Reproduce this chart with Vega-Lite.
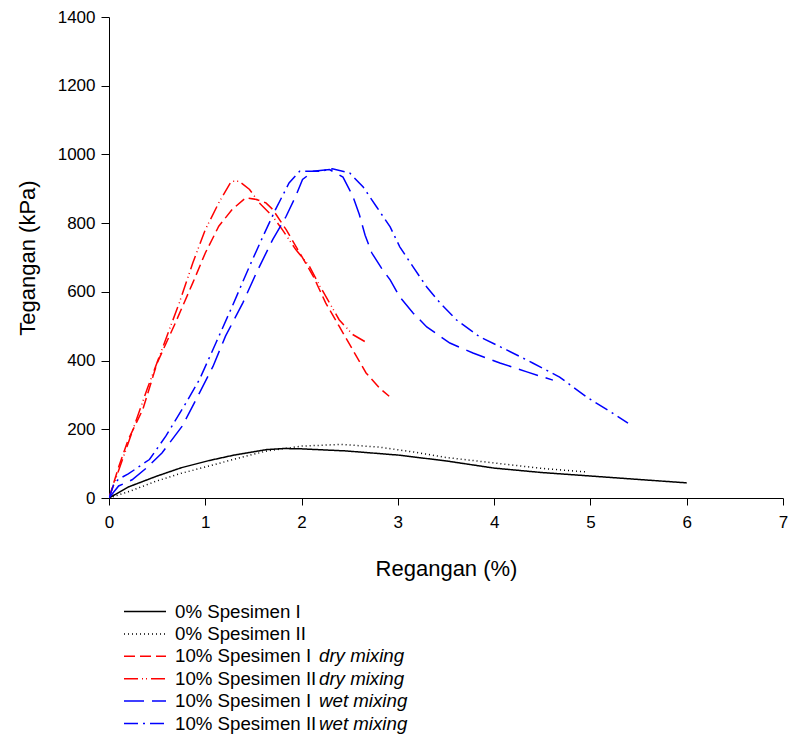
{
  "$schema": "https://vega.github.io/schema/vega-lite/v6.json",
  "autosize": "none",
  "padding": {"left": 109, "top": 17, "right": 7, "bottom": 244},
  "width": 674,
  "height": 481,
  "background": "white",
  "config": {
    "font": "Liberation Sans",
    "view": {"stroke": null},
    "axis": {
      "grid": false,
      "domainColor": "#000000",
      "tickColor": "#000000",
      "labelColor": "#000000",
      "titleColor": "#000000",
      "labelFont": "Liberation Sans",
      "titleFont": "Liberation Sans",
      "labelFontSize": 17,
      "titleFontSize": 22,
      "titleFontWeight": "normal",
      "tickSize": 7,
      "domainWidth": 1,
      "tickWidth": 1
    },
    "legend": {
      "labelFont": "Liberation Sans",
      "labelFontSize": 18.7,
      "labelColor": "#000000",
      "labelLimit": 400
    }
  },
  "layer": [
    {
      "data": {
        "values": [
          {"series": "0% Spesimen I", "x": 0, "y": 0},
          {"series": "0% Spesimen I", "x": 0.2, "y": 32},
          {"series": "0% Spesimen I", "x": 0.49, "y": 63},
          {"series": "0% Spesimen I", "x": 0.75, "y": 88},
          {"series": "0% Spesimen I", "x": 1.04, "y": 109},
          {"series": "0% Spesimen I", "x": 1.3, "y": 125},
          {"series": "0% Spesimen I", "x": 1.64, "y": 141},
          {"series": "0% Spesimen I", "x": 1.82, "y": 144},
          {"series": "0% Spesimen I", "x": 2.0, "y": 143},
          {"series": "0% Spesimen I", "x": 2.46, "y": 137},
          {"series": "0% Spesimen I", "x": 3.0, "y": 125},
          {"series": "0% Spesimen I", "x": 3.5, "y": 108},
          {"series": "0% Spesimen I", "x": 4.0, "y": 87},
          {"series": "0% Spesimen I", "x": 4.5, "y": 74},
          {"series": "0% Spesimen I", "x": 5.0, "y": 64},
          {"series": "0% Spesimen I", "x": 5.5, "y": 54},
          {"series": "0% Spesimen I", "x": 6.0, "y": 44},

          {"series": "0% Spesimen II", "x": 0, "y": 0},
          {"series": "0% Spesimen II", "x": 0.2, "y": 18},
          {"series": "0% Spesimen II", "x": 0.49, "y": 49},
          {"series": "0% Spesimen II", "x": 0.75, "y": 72},
          {"series": "0% Spesimen II", "x": 1.04, "y": 93},
          {"series": "0% Spesimen II", "x": 1.3, "y": 113},
          {"series": "0% Spesimen II", "x": 1.64, "y": 137},
          {"series": "0% Spesimen II", "x": 2.0, "y": 151},
          {"series": "0% Spesimen II", "x": 2.41, "y": 156},
          {"series": "0% Spesimen II", "x": 2.81, "y": 148},
          {"series": "0% Spesimen II", "x": 3.16, "y": 134},
          {"series": "0% Spesimen II", "x": 3.5, "y": 118},
          {"series": "0% Spesimen II", "x": 4.0, "y": 102},
          {"series": "0% Spesimen II", "x": 4.5, "y": 86},
          {"series": "0% Spesimen II", "x": 4.95, "y": 76},

          {"series": "10% Spesimen I dry mixing", "x": 0, "y": 0},
          {"series": "10% Spesimen I dry mixing", "x": 0.1, "y": 90},
          {"series": "10% Spesimen I dry mixing", "x": 0.2, "y": 170},
          {"series": "10% Spesimen I dry mixing", "x": 0.35, "y": 257},
          {"series": "10% Spesimen I dry mixing", "x": 0.5, "y": 393},
          {"series": "10% Spesimen I dry mixing", "x": 0.69, "y": 510},
          {"series": "10% Spesimen I dry mixing", "x": 0.87, "y": 626},
          {"series": "10% Spesimen I dry mixing", "x": 1.0, "y": 713},
          {"series": "10% Spesimen I dry mixing", "x": 1.14, "y": 791},
          {"series": "10% Spesimen I dry mixing", "x": 1.28, "y": 840},
          {"series": "10% Spesimen I dry mixing", "x": 1.42, "y": 874},
          {"series": "10% Spesimen I dry mixing", "x": 1.53, "y": 869},
          {"series": "10% Spesimen I dry mixing", "x": 1.63, "y": 859},
          {"series": "10% Spesimen I dry mixing", "x": 1.7, "y": 840},
          {"series": "10% Spesimen I dry mixing", "x": 1.84, "y": 781},
          {"series": "10% Spesimen I dry mixing", "x": 1.98, "y": 714},
          {"series": "10% Spesimen I dry mixing", "x": 2.12, "y": 646},
          {"series": "10% Spesimen I dry mixing", "x": 2.25, "y": 568},
          {"series": "10% Spesimen I dry mixing", "x": 2.39, "y": 500},
          {"series": "10% Spesimen I dry mixing", "x": 2.53, "y": 432},
          {"series": "10% Spesimen I dry mixing", "x": 2.67, "y": 364},
          {"series": "10% Spesimen I dry mixing", "x": 2.81, "y": 320},
          {"series": "10% Spesimen I dry mixing", "x": 2.91, "y": 296},

          {"series": "10% Spesimen II dry mixing", "x": 0, "y": 0},
          {"series": "10% Spesimen II dry mixing", "x": 0.1, "y": 80},
          {"series": "10% Spesimen II dry mixing", "x": 0.25, "y": 200},
          {"series": "10% Spesimen II dry mixing", "x": 0.4, "y": 320},
          {"series": "10% Spesimen II dry mixing", "x": 0.55, "y": 432},
          {"series": "10% Spesimen II dry mixing", "x": 0.73, "y": 568},
          {"series": "10% Spesimen II dry mixing", "x": 0.87, "y": 684},
          {"series": "10% Spesimen II dry mixing", "x": 1.0, "y": 781},
          {"series": "10% Spesimen II dry mixing", "x": 1.14, "y": 859},
          {"series": "10% Spesimen II dry mixing", "x": 1.27, "y": 922},
          {"series": "10% Spesimen II dry mixing", "x": 1.35, "y": 922},
          {"series": "10% Spesimen II dry mixing", "x": 1.46, "y": 898},
          {"series": "10% Spesimen II dry mixing", "x": 1.56, "y": 859},
          {"series": "10% Spesimen II dry mixing", "x": 1.7, "y": 820},
          {"series": "10% Spesimen II dry mixing", "x": 1.8, "y": 781},
          {"series": "10% Spesimen II dry mixing", "x": 1.94, "y": 723},
          {"series": "10% Spesimen II dry mixing", "x": 2.08, "y": 675},
          {"series": "10% Spesimen II dry mixing", "x": 2.19, "y": 617},
          {"series": "10% Spesimen II dry mixing", "x": 2.29, "y": 568},
          {"series": "10% Spesimen II dry mixing", "x": 2.39, "y": 519},
          {"series": "10% Spesimen II dry mixing", "x": 2.53, "y": 476},
          {"series": "10% Spesimen II dry mixing", "x": 2.69, "y": 450},

          {"series": "10% Spesimen I wet mixing", "x": 0, "y": 0},
          {"series": "10% Spesimen I wet mixing", "x": 0.1, "y": 35},
          {"series": "10% Spesimen I wet mixing", "x": 0.24, "y": 53},
          {"series": "10% Spesimen I wet mixing", "x": 0.4, "y": 90},
          {"series": "10% Spesimen I wet mixing", "x": 0.55, "y": 131},
          {"series": "10% Spesimen I wet mixing", "x": 0.76, "y": 209},
          {"series": "10% Spesimen I wet mixing", "x": 0.94, "y": 306},
          {"series": "10% Spesimen I wet mixing", "x": 1.08, "y": 383},
          {"series": "10% Spesimen I wet mixing", "x": 1.21, "y": 471},
          {"series": "10% Spesimen I wet mixing", "x": 1.39, "y": 568},
          {"series": "10% Spesimen I wet mixing", "x": 1.53, "y": 655},
          {"series": "10% Spesimen I wet mixing", "x": 1.7, "y": 752},
          {"series": "10% Spesimen I wet mixing", "x": 1.84, "y": 820},
          {"series": "10% Spesimen I wet mixing", "x": 1.94, "y": 879},
          {"series": "10% Spesimen I wet mixing", "x": 2.01, "y": 927},
          {"series": "10% Spesimen I wet mixing", "x": 2.12, "y": 951},
          {"series": "10% Spesimen I wet mixing", "x": 2.29, "y": 956},
          {"series": "10% Spesimen I wet mixing", "x": 2.43, "y": 934},
          {"series": "10% Spesimen I wet mixing", "x": 2.53, "y": 880},
          {"series": "10% Spesimen I wet mixing", "x": 2.6, "y": 825},
          {"series": "10% Spesimen I wet mixing", "x": 2.66, "y": 765},
          {"series": "10% Spesimen I wet mixing", "x": 2.73, "y": 713},
          {"series": "10% Spesimen I wet mixing", "x": 2.83, "y": 669},
          {"series": "10% Spesimen I wet mixing", "x": 2.92, "y": 635},
          {"series": "10% Spesimen I wet mixing", "x": 3.02, "y": 585},
          {"series": "10% Spesimen I wet mixing", "x": 3.16, "y": 538},
          {"series": "10% Spesimen I wet mixing", "x": 3.3, "y": 498},
          {"series": "10% Spesimen I wet mixing", "x": 3.54, "y": 451},
          {"series": "10% Spesimen I wet mixing", "x": 3.78, "y": 422},
          {"series": "10% Spesimen I wet mixing", "x": 4.06, "y": 393},
          {"series": "10% Spesimen I wet mixing", "x": 4.34, "y": 367},
          {"series": "10% Spesimen I wet mixing", "x": 4.61, "y": 343},

          {"series": "10% Spesimen II wet mixing", "x": 0, "y": 0},
          {"series": "10% Spesimen II wet mixing", "x": 0.05, "y": 40},
          {"series": "10% Spesimen II wet mixing", "x": 0.1, "y": 55},
          {"series": "10% Spesimen II wet mixing", "x": 0.2, "y": 70},
          {"series": "10% Spesimen II wet mixing", "x": 0.42, "y": 112},
          {"series": "10% Spesimen II wet mixing", "x": 0.59, "y": 180},
          {"series": "10% Spesimen II wet mixing", "x": 0.8, "y": 277},
          {"series": "10% Spesimen II wet mixing", "x": 0.94, "y": 345},
          {"series": "10% Spesimen II wet mixing", "x": 1.11, "y": 451},
          {"series": "10% Spesimen II wet mixing", "x": 1.28, "y": 558},
          {"series": "10% Spesimen II wet mixing", "x": 1.46, "y": 675},
          {"series": "10% Spesimen II wet mixing", "x": 1.6, "y": 762},
          {"series": "10% Spesimen II wet mixing", "x": 1.73, "y": 840},
          {"series": "10% Spesimen II wet mixing", "x": 1.87, "y": 917},
          {"series": "10% Spesimen II wet mixing", "x": 1.98, "y": 951},
          {"series": "10% Spesimen II wet mixing", "x": 2.08, "y": 951},
          {"series": "10% Spesimen II wet mixing", "x": 2.19, "y": 951},
          {"series": "10% Spesimen II wet mixing", "x": 2.32, "y": 958},
          {"series": "10% Spesimen II wet mixing", "x": 2.5, "y": 946},
          {"series": "10% Spesimen II wet mixing", "x": 2.64, "y": 905},
          {"series": "10% Spesimen II wet mixing", "x": 2.78, "y": 847},
          {"series": "10% Spesimen II wet mixing", "x": 2.92, "y": 789},
          {"series": "10% Spesimen II wet mixing", "x": 3.02, "y": 731},
          {"series": "10% Spesimen II wet mixing", "x": 3.16, "y": 672},
          {"series": "10% Spesimen II wet mixing", "x": 3.3, "y": 614},
          {"series": "10% Spesimen II wet mixing", "x": 3.44, "y": 567},
          {"series": "10% Spesimen II wet mixing", "x": 3.61, "y": 518},
          {"series": "10% Spesimen II wet mixing", "x": 3.85, "y": 469},
          {"series": "10% Spesimen II wet mixing", "x": 4.13, "y": 431},
          {"series": "10% Spesimen II wet mixing", "x": 4.4, "y": 393},
          {"series": "10% Spesimen II wet mixing", "x": 4.68, "y": 352},
          {"series": "10% Spesimen II wet mixing", "x": 4.96, "y": 294},
          {"series": "10% Spesimen II wet mixing", "x": 5.23, "y": 247},
          {"series": "10% Spesimen II wet mixing", "x": 5.39, "y": 218}
        ]
      },
      "mark": {"type": "line", "strokeWidth": 1.5, "clip": true},
      "encoding": {
        "x": {
          "field": "x",
          "type": "quantitative",
          "scale": {"domain": [0, 7], "nice": false, "zero": false},
          "axis": {"values": [0, 1, 2, 3, 4, 5, 6, 7], "title": "Regangan (%)", "format": "d", "labelPadding": 9, "titlePadding": 28, "labelFlush": false}
        },
        "y": {
          "field": "y",
          "type": "quantitative",
          "scale": {"domain": [0, 1400], "nice": false},
          "axis": {"values": [0, 200, 400, 600, 800, 1000, 1200, 1400], "title": "Tegangan (kPa)", "format": "d", "labelPadding": 6, "titlePadding": 18, "tickSize": 8, "labelFlush": false}
        },
        "color": {
          "field": "series",
          "type": "nominal",
          "scale": {
            "domain": ["0% Spesimen I", "0% Spesimen II", "10% Spesimen I dry mixing", "10% Spesimen II dry mixing", "10% Spesimen I wet mixing", "10% Spesimen II wet mixing"],
            "range": ["#000000", "#000000", "#ff0000", "#ff0000", "#0000ff", "#0000ff"]
          },
          "legend": {
            "title": null,
            "orient": "none",
            "legendX": 14,
            "legendY": 585,
            "symbolType": "stroke",
            "symbolSize": 1764,
            "symbolStrokeWidth": 1.5,
            "clipHeight": 19,
            "labelOffset": 8,
            "rowPadding": 2.4,
            "labelExpr": "replace(replace(datum.label, ' dry mixing', ''), ' wet mixing', '')"
          }
        },
        "strokeDash": {
          "field": "series",
          "type": "nominal",
          "scale": {
            "domain": ["0% Spesimen I", "0% Spesimen II", "10% Spesimen I dry mixing", "10% Spesimen II dry mixing", "10% Spesimen I wet mixing", "10% Spesimen II wet mixing"],
            "range": [[1, 0], [1, 3], [11, 5], [14, 4, 1, 3, 1, 4], [20, 8], [14, 5, 2, 5]]
          }
        }
      }
    },
    {
      "data": {
        "values": [
          {"mix": "0% I"},
          {"mix": "0% II"},
          {"mix": "I dry"},
          {"mix": "II dry"},
          {"mix": "I wet"},
          {"mix": "II wet"}
        ]
      },
      "mark": {"type": "point", "opacity": 0},
      "encoding": {
        "shape": {
          "field": "mix",
          "type": "nominal",
          "scale": {
            "domain": ["0% I", "0% II", "I dry", "II dry", "I wet", "II wet"],
            "range": ["stroke", "stroke", "stroke", "stroke", "stroke", "stroke"]
          },
          "legend": {
            "title": null,
            "orient": "none",
            "legendX": 158,
            "legendY": 585,
            "symbolSize": 1764,
            "symbolOpacity": 0,
            "symbolStrokeWidth": 1.5,
            "clipHeight": 19,
            "labelOffset": 8,
            "rowPadding": 2.4,
            "labelFontStyle": "italic",
            "labelExpr": "indexof(datum.label, 'dry') >= 0 ? 'dry mixing' : indexof(datum.label, 'wet') >= 0 ? 'wet mixing' : ''"
          }
        }
      }
    }
  ]
}
